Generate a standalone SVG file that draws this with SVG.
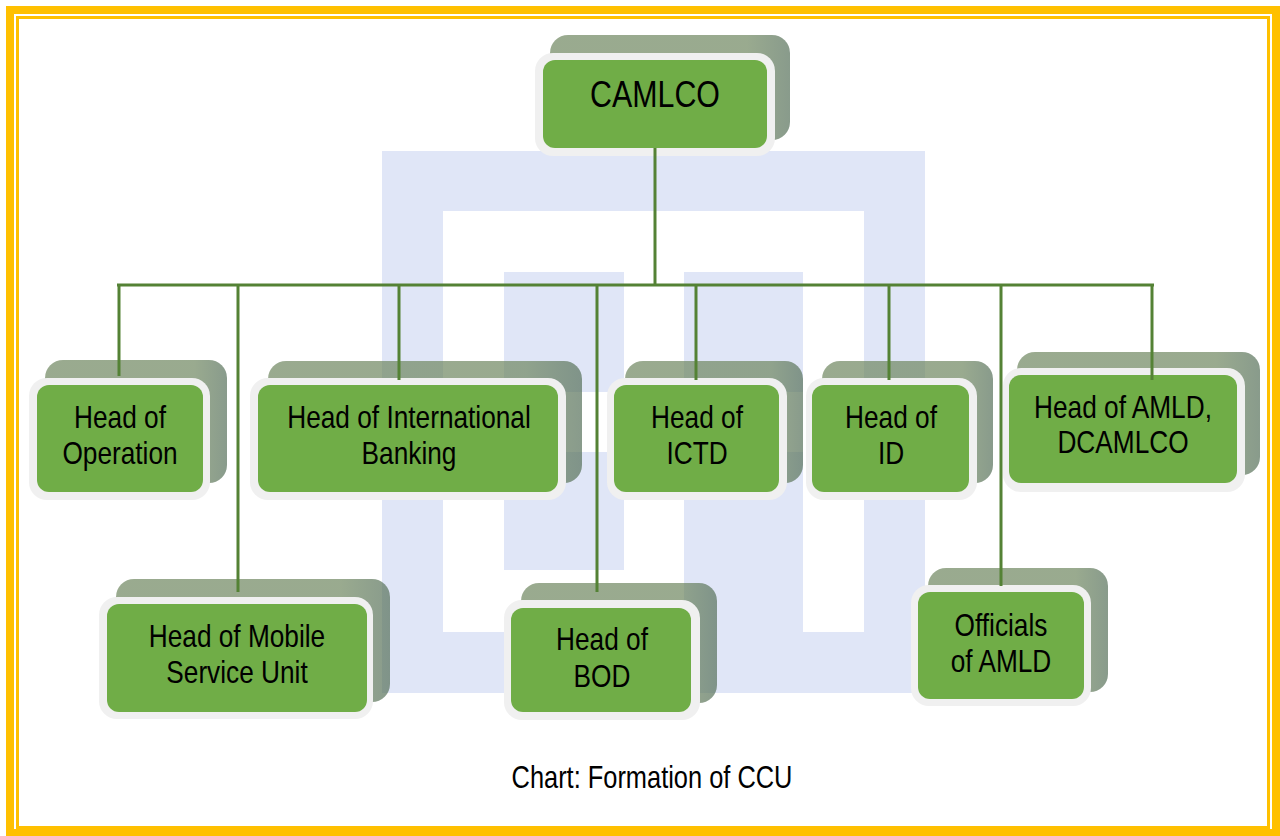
<svg xmlns="http://www.w3.org/2000/svg" width="1280" height="836" viewBox="0 0 1280 836">
  <defs>
    <linearGradient id="shade" x1="0" y1="0" x2="1" y2="0">
      <stop offset="0" stop-color="#6E865F" stop-opacity="0.7"/>
      <stop offset="0.82" stop-color="#6E865F" stop-opacity="0.7"/>
      <stop offset="1" stop-color="#56705A" stop-opacity="0.7"/>
    </linearGradient>
  </defs>
  <style>
    .shadow { fill: url(#shade); }
    .rim { fill: #F0F0F0; }
    .box { fill: #70AD47; }
    .lbl { font-family: 'Liberation Sans Narrow', 'Arial Narrow', 'Liberation Sans', Arial, sans-serif; font-size: 32px; fill: #000000; text-anchor: middle; }
    .wm { fill: #E0E6F7; }
    .wmw { fill: #FFFFFF; }
    .conn { stroke: #548235; stroke-width: 3; fill: none; }
  </style>
  <rect x="0" y="0" width="1280" height="836" fill="#FFFFFF"/>
  <!-- frame -->
  <g id="frame" fill="none" stroke="#FFC000">
    <rect x="10" y="10" width="1266" height="823" stroke-width="8"/>
    <rect x="17.5" y="17.5" width="1251" height="810" stroke-width="3"/>
  </g>
  <!-- watermark -->
  <g id="watermark">
    <rect class="wm" x="382" y="151" width="543" height="542"/>
    <rect class="wmw" x="443" y="211" width="421" height="421"/>
    <rect class="wm" x="504" y="272" width="120" height="298"/>
    <rect class="wm" x="684" y="272" width="119" height="421"/>
    <rect class="wmw" x="504" y="392" width="120" height="60"/>
    <rect class="wmw" x="684" y="392" width="119" height="60"/>
  </g>

  <g id="node-camlco">
    <rect class="shadow" x="550" y="35" width="240" height="105" rx="18"/>
    <rect class="rim" x="535" y="53" width="240" height="103" rx="18"/>
    <rect class="box" x="543" y="60" width="224" height="88" rx="12"/>
    <text class="lbl" transform="translate(655 107) scale(0.82 1)" style="font-size:37px">CAMLCO</text>
  </g>

  <g id="node-operation">
    <rect class="shadow" x="45" y="360" width="182" height="123" rx="18"/>
    <rect class="rim" x="29" y="378" width="181" height="122" rx="18"/>
    <rect class="box" x="37" y="385" width="166" height="107" rx="12"/>
    <text class="lbl" transform="translate(120 428) scale(0.82 1)">Head of</text>
    <text class="lbl" transform="translate(120 464) scale(0.82 1)">Operation</text>
  </g>

  <g id="node-intl">
    <rect class="shadow" x="268" y="361" width="314" height="122" rx="18"/>
    <rect class="rim" x="250" y="378" width="316" height="122" rx="18"/>
    <rect class="box" x="258" y="385" width="300" height="107" rx="12"/>
    <text class="lbl" transform="translate(409 428) scale(0.82 1)">Head of International</text>
    <text class="lbl" transform="translate(409 464) scale(0.82 1)">Banking</text>
  </g>

  <g id="node-ictd">
    <rect class="shadow" x="625" y="361" width="178" height="122" rx="18"/>
    <rect class="rim" x="607" y="378" width="180" height="122" rx="18"/>
    <rect class="box" x="614" y="385" width="165" height="107" rx="12"/>
    <text class="lbl" transform="translate(697 428) scale(0.82 1)">Head of</text>
    <text class="lbl" transform="translate(697 464) scale(0.82 1)">ICTD</text>
  </g>

  <g id="node-id">
    <rect class="shadow" x="822" y="361" width="171" height="122" rx="18"/>
    <rect class="rim" x="806" y="378" width="171" height="122" rx="18"/>
    <rect class="box" x="812" y="385" width="157" height="107" rx="12"/>
    <text class="lbl" transform="translate(891 428) scale(0.82 1)">Head of</text>
    <text class="lbl" transform="translate(891 464) scale(0.82 1)">ID</text>
  </g>

  <g id="node-amld">
    <rect class="shadow" x="1017" y="352" width="243" height="123" rx="18"/>
    <rect class="rim" x="1003" y="368" width="242" height="124" rx="18"/>
    <rect class="box" x="1009" y="375" width="228" height="108" rx="12"/>
    <text class="lbl" transform="translate(1123 418) scale(0.82 1)">Head of AMLD,</text>
    <text class="lbl" transform="translate(1123 453) scale(0.82 1)">DCAMLCO</text>
  </g>

  <g id="node-mobile">
    <rect class="shadow" x="116" y="579" width="274" height="123" rx="18"/>
    <rect class="rim" x="99" y="597" width="274" height="122" rx="18"/>
    <rect class="box" x="107" y="604" width="260" height="108" rx="12"/>
    <text class="lbl" transform="translate(237 647) scale(0.82 1)">Head of Mobile</text>
    <text class="lbl" transform="translate(237 683) scale(0.82 1)">Service Unit</text>
  </g>

  <g id="node-bod">
    <rect class="shadow" x="521" y="583" width="196" height="120" rx="18"/>
    <rect class="rim" x="504" y="600" width="196" height="120" rx="18"/>
    <rect class="box" x="511" y="608" width="180" height="104" rx="12"/>
    <text class="lbl" transform="translate(602 650) scale(0.82 1)">Head of</text>
    <text class="lbl" transform="translate(602 687) scale(0.82 1)">BOD</text>
  </g>

  <g id="node-officials">
    <rect class="shadow" x="928" y="568" width="180" height="124" rx="18"/>
    <rect class="rim" x="911" y="585" width="180" height="121" rx="18"/>
    <rect class="box" x="918" y="592" width="166" height="107" rx="12"/>
    <text class="lbl" transform="translate(1001 636) scale(0.82 1)">Officials</text>
    <text class="lbl" transform="translate(1001 672) scale(0.82 1)">of AMLD</text>
  </g>

  <g id="connectors" class="conn">
    <line x1="655" y1="148" x2="655" y2="285"/>
    <line x1="117" y1="285" x2="1154" y2="285"/>
    <line x1="119" y1="285" x2="119" y2="376"/>
    <line x1="238" y1="285" x2="238" y2="592"/>
    <line x1="399" y1="285" x2="399" y2="380"/>
    <line x1="597" y1="285" x2="597" y2="592"/>
    <line x1="696" y1="285" x2="696" y2="380"/>
    <line x1="889" y1="285" x2="889" y2="380"/>
    <line x1="1001" y1="285" x2="1001" y2="586"/>
    <line x1="1152" y1="285" x2="1152" y2="380"/>
  </g>

  <text id="caption" class="lbl" transform="translate(652 788) scale(0.82 1)" style="font-size:31px">Chart: Formation of CCU</text>
</svg>
